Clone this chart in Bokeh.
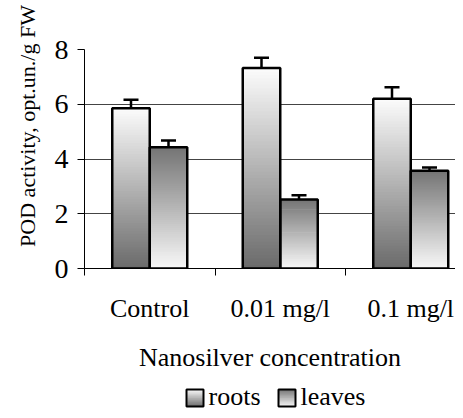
import numpy as np
from bokeh.plotting import figure
from bokeh.layouts import column
from bokeh.models import (Range1d, LinearAxis, FixedTicker, ColumnDataSource, Whisker,
                          TeeHead)
from bokeh.core.properties import value
from bokeh.embed import file_html
from bokeh.resources import INLINE

# ---- data ----
categories = ["Control", "0.01 mg/l", "0.1 mg/l"]
roots = [5.85, 7.32, 6.2]
roots_err = [0.31, 0.38, 0.42]
leaves = [4.43, 2.52, 3.57]
leaves_err = [0.25, 0.16, 0.12]
y_ticks = [0, 2, 4, 6, 8]
series_names = ["roots", "leaves"]
y_title = "POD activity, opt.un./g FW"
x_title = "Nanosilver concentration"

FONT = "Liberation Serif"
W = 455
H_MAIN = 374
H_LEG = 36
LEFT, TOP = 84, 49
cat_px = 130.5
frame_w = W - LEFT

p = figure(width=W, height=H_MAIN, output_backend="svg", toolbar_location=None,
           x_range=Range1d(0, frame_w / cat_px), y_range=Range1d(0, 8),
           min_border_left=LEFT, min_border_right=0, min_border_top=TOP,
           min_border_bottom=102)
p.outline_line_color = None
p.background_fill_color = "white"
p.xgrid.visible = False
p.ygrid.ticker = FixedTicker(ticks=[2, 4, 6, 8])
p.ygrid.grid_line_color = "#444444"
p.ygrid.grid_line_width = 1

# y axis
ya = p.yaxis[0]
ya.ticker = FixedTicker(ticks=y_ticks)
ya.axis_line_color = "black"
ya.major_tick_out = 7
ya.major_tick_in = 0
ya.minor_tick_line_color = None
ya.major_label_standoff = 9
ya.major_label_text_font = FONT
ya.major_label_text_font_size = "28px"
ya.major_label_text_color = "black"
# leading no-break spaces lift the (frame-centred) title to where the reference has it
ya.axis_label = "\u00a0" * 12 + y_title
ya.axis_label_text_font = FONT
ya.axis_label_text_font_size = "22px"
ya.axis_label_text_font_style = "normal"
ya.axis_label_text_color = "black"
ya.axis_label_standoff = 12

# x axis A: boundary ticks
xa = p.xaxis[0]
xa.ticker = FixedTicker(ticks=list(range(len(categories))))
xa.axis_line_color = "black"
xa.major_tick_out = 7
xa.major_tick_in = 0
xa.minor_tick_line_color = None
xa.major_label_overrides = {0: " ", 1: " ", 2: " "}
xa.major_label_text_font_size = "1px"
xa.major_label_standoff = 0

# x axis B: category labels
centers = [i + 0.5 for i in range(len(categories))]
xb = LinearAxis(ticker=FixedTicker(ticks=centers),
                major_label_overrides={c: n for c, n in zip(centers, categories)})
xb.axis_line_color = None
xb.major_tick_line_color = None
xb.minor_tick_line_color = None
xb.major_tick_out = 0
xb.major_tick_in = 0
xb.major_label_standoff = 14
xb.major_label_text_font = FONT
xb.major_label_text_font_size = "26px"
xb.major_label_text_color = "black"
xb.axis_label = x_title
xb.axis_label_text_font = FONT
xb.axis_label_text_font_size = "26px"
xb.axis_label_text_font_style = "normal"
xb.axis_label_text_color = "black"
xb.axis_label_standoff = 17
p.add_layout(xb, "below")

# ---- bars with vertical gradient ----
bw = 37.5 / cat_px
n = 60
ROOT_G = (0x6a, 0xfc)   # bottom, top
LEAF_G = (0xf8, 0x74)

def gray(v):
    g = int(round(v))
    return "#%02x%02x%02x" % (g, g, g)

def gradient_slices(left, right, bottom, top, bottom_g, top_g, k_n):
    L, R, B, T, C = [], [], [], [], []
    step = (top - bottom) / k_n
    for k in range(k_n):
        t = (k + 0.5) / k_n
        L.append(left); R.append(right)
        B.append(bottom + k * step)
        T.append(min(top, bottom + (k + 1.6) * step))
        C.append(gray(bottom_g + (top_g - bottom_g) * t))
    return L, R, B, T, C

allL, allR, allB, allT, allC = [], [], [], [], []
for i in range(len(categories)):
    for (vals, g, off) in [(roots, ROOT_G, -bw), (leaves, LEAF_G, 0.0)]:
        left = centers[i] + off
        L, R, B, T, C = gradient_slices(left, left + bw, 0, vals[i], g[0], g[1], n)
        allL += L; allR += R; allB += B; allT += T; allC += C

p.quad(left=allL, right=allR, bottom=allB, top=allT, fill_color=allC, line_color=None)

rl = [c - bw for c in centers]
p.quad(left=rl, right=centers, bottom=0, top=roots, fill_color=None,
       line_color="black", line_width=2.5)
p.quad(left=centers, right=[c + bw for c in centers], bottom=0, top=leaves,
       fill_color=None, line_color="black", line_width=2.5)

# error bars
for xs, vals, errs in [([c - bw / 2 for c in centers], roots, roots_err),
                       ([c + bw / 2 for c in centers], leaves, leaves_err)]:
    src = ColumnDataSource(dict(x=xs, lo=vals, hi=[v + e for v, e in zip(vals, errs)]))
    w = Whisker(base="x", lower="lo", upper="hi", source=src, line_width=2.5,
                line_color="black",
                upper_head=TeeHead(size=15, line_width=2.5, line_color="black"),
                lower_head=None)
    p.add_layout(w)

# ---- legend strip (separate figure; its frame is aligned with the main frame,
#      so its x range is given in page pixels from LEFT to W) ----
lg = figure(width=W, height=H_LEG, output_backend="svg", toolbar_location=None,
            x_range=Range1d(LEFT, W), y_range=Range1d(0, H_LEG),
            min_border_left=LEFT, min_border_right=0, min_border_top=0, min_border_bottom=0)
lg.axis.visible = False
lg.grid.visible = False
lg.outline_line_color = None

sq = 17
base_y = 4
sq_x = [186, 278]
sq_grad = [ROOT_G, LEAF_G]
lL, lR, lB, lT, lC = [], [], [], [], []
for x0, g in zip(sq_x, sq_grad):
    L, R, B, T, C = gradient_slices(x0, x0 + sq, base_y, base_y + sq, g[0], g[1], 12)
    lL += L; lR += R; lB += B; lT += T; lC += C
lg.quad(left=lL, right=lR, bottom=lB, top=lT, fill_color=lC, line_color=None)
lg.quad(left=sq_x, right=[x + sq for x in sq_x], bottom=base_y, top=base_y + sq,
        fill_color=None, line_color="black", line_width=2)
lg.text(x=[x + sq + 5 for x in sq_x], y=[base_y + 10, base_y + 10], text=series_names,
        text_font=value(FONT), text_font_size="26px", text_color="black",
        text_baseline="middle", text_align="left")

layout = column(p, lg, spacing=0)
open("out.html", "w").write(file_html(layout, INLINE))
